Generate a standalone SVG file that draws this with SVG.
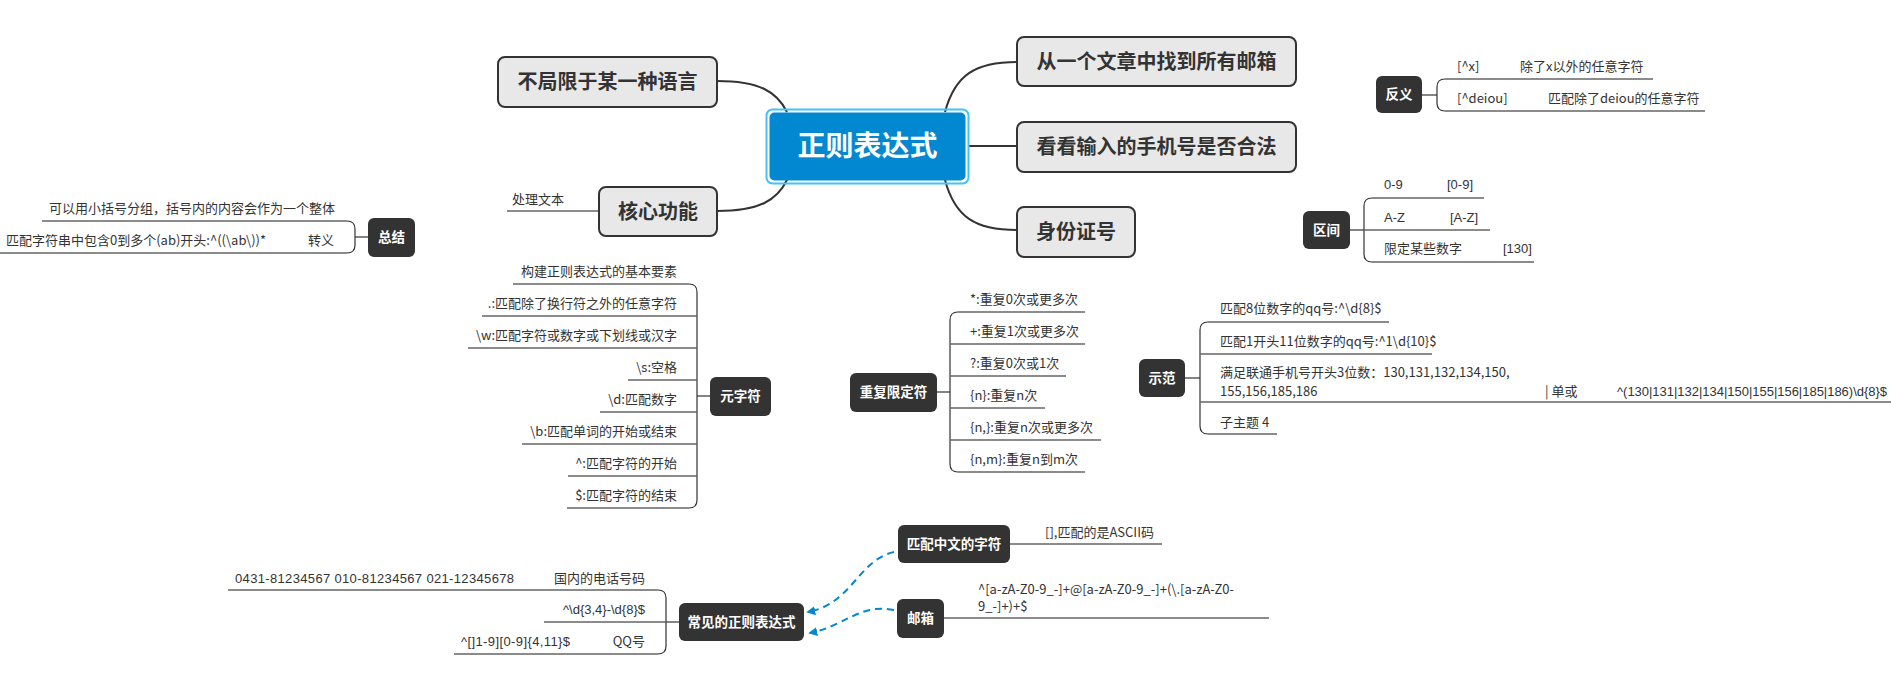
<svg xmlns="http://www.w3.org/2000/svg" width="1891" height="690" viewBox="0 0 1891 690">
<defs>
<style>
.t{font-family:"Noto Sans CJK SC","Liberation Sans",sans-serif;font-size:13px;fill:#333}
.m{font-family:"Liberation Sans","Noto Sans CJK SC",sans-serif;font-size:13px;fill:#333}
.bt{font-family:"Noto Sans CJK SC","Liberation Sans",sans-serif;font-size:20px;font-weight:bold;fill:#333}
.nt{font-family:"Noto Sans CJK SC","Liberation Sans",sans-serif;font-size:13.5px;font-weight:bold;fill:#fff}
.box{fill:#e8e8e8;stroke:#333;stroke-width:2}
.dk{fill:#333}
.ul{fill:none;stroke:#666;stroke-width:1.4}
.cn{fill:none;stroke:#333;stroke-width:2}
.br{fill:none;stroke:#333;stroke-width:1.2}
.da{fill:none;stroke:#0288d1;stroke-width:2;stroke-dasharray:7 5}
</style>
<marker id="ah" viewBox="0 0 10 10" refX="8" refY="5" markerWidth="9" markerHeight="9" orient="auto" markerUnits="userSpaceOnUse">
<path d="M0,0 L10,5 L0,10 z" fill="#0288d1"/>
</marker>
</defs>
<rect width="1891" height="690" fill="#fff"/>

<g id="connectors">
<path class="cn" d="M717,81 C760,81 777,92 787,112"/>
<path class="cn" d="M717,211 C760,211 777,200 787,180"/>
<path class="cn" d="M945,112 C955,75 975,62 1017,62"/>
<path class="cn" d="M968,146 L1017,146"/>
<path class="cn" d="M945,180 C955,217 975,230 1017,230"/>
<path class="ul" d="M599,211 L507,211"/>
<path class="da" marker-end="url(#ah)" d="M894,552 C858,560 852,604 808,612"/>
<path class="da" marker-end="url(#ah)" d="M894,610 C860,603 845,626 810,633"/>
</g>

<g id="center">
<rect x="766.5" y="109.5" width="202" height="74" rx="6" fill="none" stroke="#45c2f5" stroke-width="2"/>
<rect x="769.5" y="112.5" width="196" height="68" rx="5" fill="#0288d1"/>
<text x="867.5" y="156" text-anchor="middle" font-family="'Noto Sans CJK SC','Liberation Sans',sans-serif" font-size="28" font-weight="bold" fill="#fff">正则表达式</text>
</g>

<g id="n-lang">
<rect class="box" x="498" y="57" width="219" height="50" rx="7"/>
<text class="bt" x="607.5" y="89" text-anchor="middle">不局限于某一种语言</text>
</g>
<g id="n-core">
<rect class="box" x="599" y="187" width="118" height="49" rx="7"/>
<text class="bt" x="658" y="219" text-anchor="middle">核心功能</text>
<text class="t" x="512" y="204">处理文本</text>
</g>
<g id="n-mail">
<rect class="box" x="1017" y="37" width="279" height="49" rx="7"/>
<text class="bt" x="1156.5" y="69" text-anchor="middle">从一个文章中找到所有邮箱</text>
</g>
<g id="n-phone">
<rect class="box" x="1017" y="122" width="279" height="50" rx="7"/>
<text class="bt" x="1156.5" y="154" text-anchor="middle">看看输入的手机号是否合法</text>
</g>
<g id="n-id">
<rect class="box" x="1017" y="207" width="118" height="50" rx="7"/>
<text class="bt" x="1076" y="239" text-anchor="middle">身份证号</text>
</g>

<g id="n-summary">
<rect class="dk" x="368" y="218" width="47" height="39" rx="6"/>
<text class="nt" x="391.5" y="242" text-anchor="middle">总结</text>
<path class="br" d="M368,237 L355,237"/>
<path class="br" d="M347,221 Q355,221 355,229 L355,245 Q355,253 347,253"/>
<path class="ul" d="M42,221 L347,221 M0,253 L347,253"/>
<text class="t" x="49" y="213">可以用小括号分组，括号内的内容会作为一个整体</text>
<text class="t" x="6" y="245">匹配字符串中包含0到多个(ab)开头:^((\ab\))*</text>
<text class="t" x="308" y="245">转义</text>
</g>

<g id="n-meta">
<rect class="dk" x="710" y="377" width="61" height="39" rx="6"/>
<text class="nt" x="740.5" y="401" text-anchor="middle">元字符</text>
<path class="br" d="M710,396 L697,396"/>
<path class="br" d="M689,284 Q697,284 697,292 L697,500 Q697,508 689,508"/>
<path class="ul" d="M513,284 L689,284 M482,316 L697,316 M468,348 L697,348 M628,380 L697,380 M600,412 L697,412 M522,444 L697,444 M568,476 L697,476 M567,508 L689,508"/>
<g text-anchor="end">
<text class="t" x="677" y="276">构建正则表达式的基本要素</text>
<text class="t" x="677" y="308">.:匹配除了换行符之外的任意字符</text>
<text class="t" x="677" y="340">\w:匹配字符或数字或下划线或汉字</text>
<text class="t" x="677" y="372">\s:空格</text>
<text class="t" x="677" y="404">\d:匹配数字</text>
<text class="t" x="677" y="436">\b:匹配单词的开始或结束</text>
<text class="t" x="677" y="468">^:匹配字符的开始</text>
<text class="t" x="677" y="500">$:匹配字符的结束</text>
</g>
</g>

<g id="n-repeat">
<rect class="dk" x="850" y="373" width="87" height="39" rx="6"/>
<text class="nt" x="893.5" y="397" text-anchor="middle">重复限定符</text>
<path class="br" d="M937,392 L950,392"/>
<path class="br" d="M958,312 Q950,312 950,320 L950,464 Q950,472 958,472"/>
<path class="ul" d="M958,312 L1085,312 M950,344 L1085,344 M950,376 L1066,376 M950,408 L1045,408 M950,440 L1101,440 M958,472 L1085,472"/>
<text class="t" x="970" y="304">*:重复0次或更多次</text>
<text class="t" x="970" y="336">+:重复1次或更多次</text>
<text class="t" x="970" y="368">?:重复0次或1次</text>
<text class="t" x="970" y="400">{n}:重复n次</text>
<text class="t" x="970" y="432">{n,}:重复n次或更多次</text>
<text class="t" x="970" y="464">{n,m}:重复n到m次</text>
</g>

<g id="n-demo">
<rect class="dk" x="1139" y="359" width="46" height="38" rx="6"/>
<text class="nt" x="1162" y="383" text-anchor="middle">示范</text>
<path class="br" d="M1185,378 L1200,378"/>
<path class="br" d="M1208,322 Q1200,322 1200,330 L1200,426 Q1200,434 1208,434"/>
<path class="ul" d="M1208,322 L1389,322 M1200,354 L1432,354 M1200,402 L1891,402 M1208,434 L1277,434"/>
<text class="t" x="1220" y="313">匹配8位数字的qq号:^\d{8}$</text>
<text class="t" x="1220" y="346">匹配1开头11位数字的qq号:^1\d{10}$</text>
<text class="t" x="1220" y="377">满足联通手机号开头3位数：130,131,132,134,150,</text>
<text class="t" x="1220" y="396">155,156,185,186</text>
<text class="t" x="1545" y="396">| 单或</text>
<text class="m" x="1617" y="396" textLength="270">^(130|131|132|134|150|155|156|185|186)\d{8}$</text>
<text class="t" x="1220" y="427">子主题 4</text>
</g>

<g id="n-neg">
<rect class="dk" x="1376" y="76" width="46" height="37" rx="6"/>
<text class="nt" x="1399" y="99" text-anchor="middle">反义</text>
<path class="br" d="M1422,95 L1437,95"/>
<path class="br" d="M1445,79 Q1437,79 1437,87 L1437,103 Q1437,111 1445,111"/>
<path class="ul" d="M1445,79 L1653,79 M1445,111 L1705,111"/>
<text class="t" x="1457" y="71">[^x]</text>
<text class="t" x="1520" y="71">除了x以外的任意字符</text>
<text class="t" x="1457" y="103">[^deiou]</text>
<text class="t" x="1548" y="103">匹配除了deiou的任意字符</text>
</g>

<g id="n-range">
<rect class="dk" x="1303" y="211" width="47" height="38" rx="6"/>
<text class="nt" x="1326.5" y="235" text-anchor="middle">区间</text>
<path class="br" d="M1350,230 L1364,230"/>
<path class="br" d="M1372,198 Q1364,198 1364,206 L1364,254 Q1364,262 1372,262"/>
<path class="ul" d="M1372,198 L1484,198 M1364,230 L1490,230 M1372,262 L1534,262"/>
<text class="m" x="1384" y="189">0-9</text>
<text class="m" x="1447" y="189">[0-9]</text>
<text class="m" x="1384" y="222">A-Z</text>
<text class="m" x="1450" y="222">[A-Z]</text>
<text class="t" x="1384" y="253">限定某些数字</text>
<text class="m" x="1503" y="253">[130]</text>
</g>

<g id="n-common">
<rect class="dk" x="679" y="603" width="125" height="38" rx="6"/>
<text class="nt" x="741.5" y="627" text-anchor="middle">常见的正则表达式</text>
<path class="br" d="M679,622 L666,622"/>
<path class="br" d="M658,590 Q666,590 666,598 L666,646 Q666,654 658,654"/>
<path class="ul" d="M228,590 L658,590 M544,622 L666,622 M454,654 L658,654"/>
<text class="m" x="235" y="583" textLength="279">0431-81234567  010-81234567  021-12345678</text>
<text class="t" x="645" y="583" text-anchor="end">国内的电话号码</text>
<text class="m" x="645" y="614" text-anchor="end">^\d{3,4}-\d{8}$</text>
<text class="m" x="461" y="646" textLength="109">^[]1-9][0-9]{4,11}$</text>
<text class="t" x="645" y="646" text-anchor="end">QQ号</text>
</g>

<g id="n-chinese">
<rect class="dk" x="898" y="525" width="112" height="38" rx="6"/>
<text class="nt" x="954" y="549" text-anchor="middle">匹配中文的字符</text>
<path class="ul" d="M1010,544 L1162,544"/>
<text class="t" x="1045" y="537">[],匹配的是ASCII码</text>
</g>

<g id="n-email">
<rect class="dk" x="897" y="599" width="47" height="39" rx="6"/>
<text class="nt" x="920.5" y="623" text-anchor="middle">邮箱</text>
<path class="ul" d="M944,618 L1269,618"/>
<text class="t" x="978" y="594">^[a-zA-Z0-9_-]+@[a-zA-Z0-9_-]+(\.[a-zA-Z0-</text>
<text class="t" x="978" y="611">9_-]+)+$</text>
</g>
</svg>
